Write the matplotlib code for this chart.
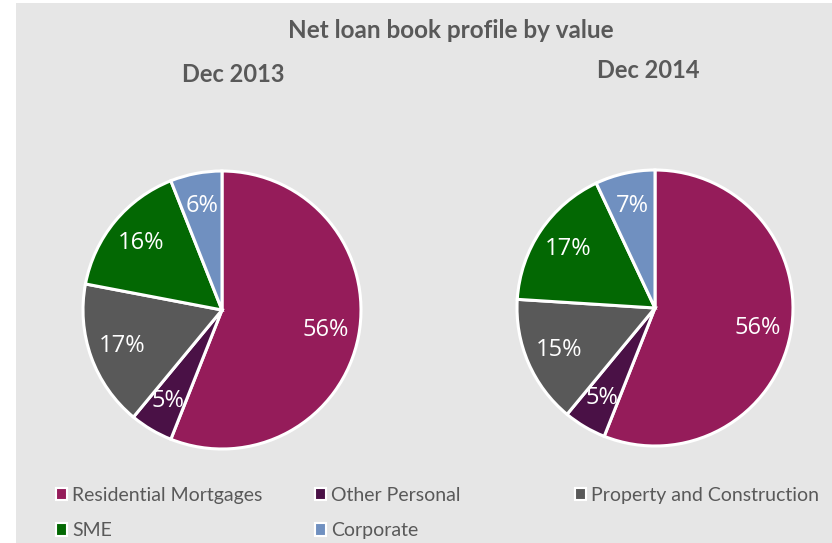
import matplotlib.pyplot as plt
from matplotlib.patches import Rectangle, Patch

categories = ['Residential Mortgages', 'Other Personal', 'Property and Construction', 'SME', 'Corporate']
dec_2013 = [56, 5, 17, 16, 6]
dec_2014 = [56, 5, 15, 17, 7]
colors = ['#951C5A', '#4A1146', '#595959', '#036803', '#7090C0']

title_color = '#595959'

fig = plt.figure(figsize=(8.32, 5.43), dpi=100)
fig.patch.set_facecolor('white')
# grey chart area
fig.patches.append(Rectangle((16 / 832, 0), 1 - 16 / 832, 1 - 3 / 543,
                             transform=fig.transFigure, facecolor='#E6E6E6',
                             edgecolor='none', zorder=-10))

W, H = 832, 543


def pie_axes(cx, cy, r):
    return fig.add_axes([(cx - r) / W, (H - cy - r) / H, 2 * r / W, 2 * r / H])


for vals, (cx, cy, r) in [(dec_2013, (222, 310, 139)), (dec_2014, (655, 308, 138))]:
    ax = pie_axes(cx, cy, r)
    wedges, texts, autotexts = ax.pie(
        vals, colors=colors, startangle=90, counterclock=False,
        autopct='%d%%', pctdistance=0.76, radius=1.0,
        wedgeprops=dict(edgecolor='white', linewidth=2.2),
        textprops=dict(color='white', fontsize=17, family='Open Sans'))
    ax.set_xlim(-1, 1)
    ax.set_ylim(-1, 1)
    ax.set_aspect('equal')
    ax.axis('off')

fig.text(451 / W, 1 - 30 / H, 'Net loan book profile by value', ha='center', va='center',
         fontsize=17.5, fontweight='bold', color=title_color, family='Lato')
fig.text(233 / W, 1 - 75 / H, 'Dec 2013', ha='center', va='center',
         fontsize=17, fontweight='bold', color=title_color, family='Lato')
fig.text(648 / W, 1 - 71 / H, 'Dec 2014', ha='center', va='center',
         fontsize=17, fontweight='bold', color=title_color, family='Lato')

# legend, placed column by column like the original
handles = [Patch(facecolor=c, edgecolor='white', linewidth=1.5) for c in colors]
columns = [([0, 3], 46), ([1, 4], 305), ([2], 565)]
for idx, x in columns:
    leg = fig.legend([handles[i] for i in idx], [categories[i] for i in idx],
                     loc='upper left', bbox_to_anchor=(x / W, 1 - 477 / H),
                     frameon=False, handlelength=0.6, handleheight=0.6,
                     handletextpad=0.25, labelspacing=0.95, borderpad=0,
                     prop=dict(family='Lato', size=14))
    for t in leg.get_texts():
        t.set_color(title_color)

fig.savefig('out.png', dpi=100, facecolor=fig.get_facecolor())
